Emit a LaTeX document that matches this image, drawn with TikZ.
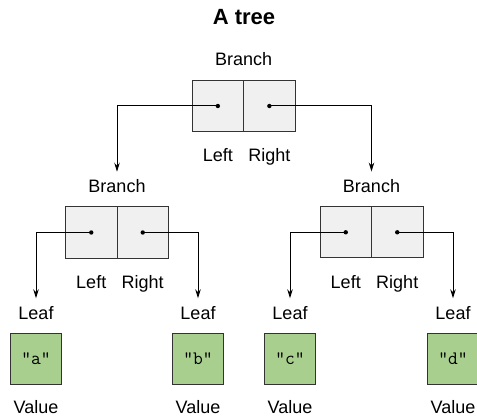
\documentclass[tikz,border=0pt]{standalone}
\usepackage{fontspec}
\setmainfont{Liberation Sans}
\usetikzlibrary{arrows.meta}
\definecolor{leafgreen}{HTML}{A9CF8F}
\tikzset{
  half/.style={draw=black!80,fill=black!6,line width=1pt,minimum width=51.5pt,minimum height=51pt,inner sep=0pt},
  leafbox/.style={draw=black!80,fill=leafgreen,line width=1pt,minimum size=51.5pt,inner sep=0pt,font=\ttfamily\fontsize{19}{21}\selectfont},
  lbl/.style={anchor=base,inner sep=0pt,font=\fontsize{18}{20}\selectfont},
  link/.style={->,line width=1pt,shorten >=7.5pt},
}
\begin{document}
\begin{tikzpicture}[x=1pt,y=-1pt,>={Stealth[length=9pt,width=5.5pt]}]
  \useasboundingbox (0,0) rectangle (477,417);
  \node[lbl,font=\bfseries\fontsize{22}{26}\selectfont] (title) at (244,25) {A tree};
  \foreach \b/\x/\y in {t/243.6/106,l/117/232.5,r/371.5/232.3}{
    \node[half] (\b L) at ({\x-25.75},\y) {};
    \node[half] (\b R) at ({\x+25.75},\y) {};
    \fill (\b L) circle (2.2pt) (\b R) circle (2.2pt);
    \node[lbl] (\b lbl) at (\x,{\y-40}) {Branch};
    \node[lbl] (\b left) at ({\x-25.75},{\y+56}) {Left};
    \node[lbl] (\b right) at ({\x+25.75},{\y+56}) {Right};
  }
  \foreach \n/\x in {a/36,b/198,c/290,d/453}{
    \node[lbl] (leaf\n) at (\x,319) {Leaf};
    \node[leafbox] (val\n) at (\x,359) {"\n"};
    \node[lbl] (value\n) at (\x,413) {Value};
  }
  \draw[link] (tL.center) -| (llbl.north);
  \draw[link] (tR.center) -| (rlbl.north);
  \draw[link] (lL.center) -| (leafa.north);
  \draw[link] (lR.center) -| (leafb.north);
  \draw[link] (rL.center) -| (leafc.north);
  \draw[link] (rR.center) -| (leafd.north);
\end{tikzpicture}
\end{document}
